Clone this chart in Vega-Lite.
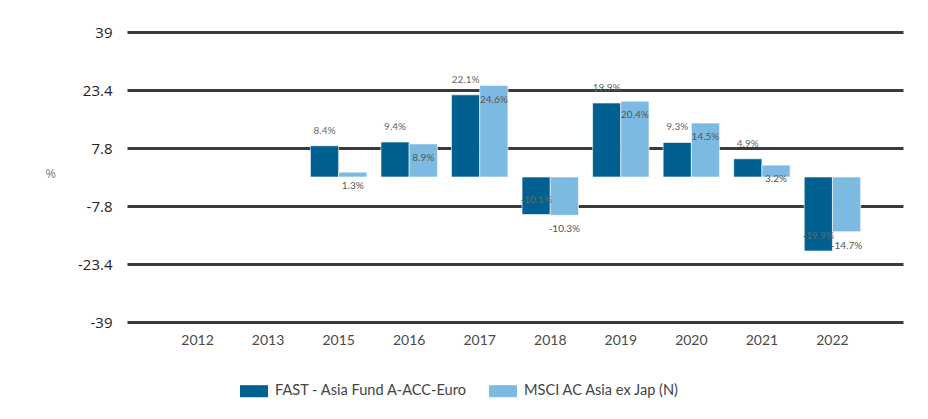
{
  "$schema": "https://vega.github.io/schema/vega-lite/v6.json",
  "width": 776,
  "height": 290,
  "autosize": {"type": "none"},
  "padding": {"left": 127, "top": 32, "right": 25, "bottom": 97},
  "background": "#ffffff",
  "config": {"view": {"stroke": null}, "font": "Lato"},
  "data": {
    "values": [
      {"year": "2015", "series": "FAST - Asia Fund A-ACC-Euro", "value": 8.4},
      {"year": "2015", "series": "MSCI AC Asia ex Jap (N)", "value": 1.3},
      {"year": "2016", "series": "FAST - Asia Fund A-ACC-Euro", "value": 9.4},
      {"year": "2016", "series": "MSCI AC Asia ex Jap (N)", "value": 8.9},
      {"year": "2017", "series": "FAST - Asia Fund A-ACC-Euro", "value": 22.1},
      {"year": "2017", "series": "MSCI AC Asia ex Jap (N)", "value": 24.6},
      {"year": "2018", "series": "FAST - Asia Fund A-ACC-Euro", "value": -10.1},
      {"year": "2018", "series": "MSCI AC Asia ex Jap (N)", "value": -10.3},
      {"year": "2019", "series": "FAST - Asia Fund A-ACC-Euro", "value": 19.9},
      {"year": "2019", "series": "MSCI AC Asia ex Jap (N)", "value": 20.4},
      {"year": "2020", "series": "FAST - Asia Fund A-ACC-Euro", "value": 9.3},
      {"year": "2020", "series": "MSCI AC Asia ex Jap (N)", "value": 14.5},
      {"year": "2021", "series": "FAST - Asia Fund A-ACC-Euro", "value": 4.9},
      {"year": "2021", "series": "MSCI AC Asia ex Jap (N)", "value": 3.2},
      {"year": "2022", "series": "FAST - Asia Fund A-ACC-Euro", "value": -19.9},
      {"year": "2022", "series": "MSCI AC Asia ex Jap (N)", "value": -14.7}
    ]
  },
  "transform": [{"calculate": "datum.value + '%'", "as": "label"}],
  "encoding": {
    "x": {
      "field": "year",
      "type": "nominal",
      "scale": {
        "domain": ["2012", "2013", "2015", "2016", "2017", "2018", "2019", "2020", "2021", "2022"],
        "paddingInner": 0.2,
        "paddingOuter": 0.6
      },
      "axis": {
        "title": null,
        "domain": false,
        "ticks": false,
        "labelAngle": 0,
        "labelPadding": 11,
        "labelFontSize": 14,
        "labelColor": "#4a4a4a",
        "labelFont": "Lato",
        "grid": false
      }
    },
    "xOffset": {"field": "series", "type": "nominal"},
    "y": {
      "field": "value",
      "type": "quantitative",
      "scale": {"domain": [-39, 39], "nice": false, "zero": false},
      "axis": {
        "title": "%",
        "titleAngle": 0,
        "titleX": -77,
        "titleY": 148,
        "titleFontSize": 13,
        "titleFontWeight": "normal",
        "titleColor": "#7a7a7a",
        "titleFont": "Open Sans",
        "values": [-39, -23.4, -7.8, 7.8, 23.4, 39],
        "labelExpr": "'' + datum.value",
        "domain": false,
        "ticks": false,
        "labelPadding": 15,
        "labelFontSize": 15,
        "labelColor": "#222222",
        "labelFont": "Open Sans",
        "grid": true,
        "gridColor": "#3a3a3a",
        "gridWidth": 3,
        "gridOpacity": 1
      }
    }
  },
  "layer": [
    {
      "mark": {"type": "bar", "stroke": "#ffffff", "strokeWidth": 0.6},
      "encoding": {
        "y2": {"datum": 0},
        "color": {
          "field": "series",
          "type": "nominal",
          "scale": {
            "domain": ["FAST - Asia Fund A-ACC-Euro", "MSCI AC Asia ex Jap (N)"],
            "range": ["#006091", "#7dbae1"]
          },
          "legend": {
            "title": null,
            "orient": "none",
            "direction": "horizontal",
            "legendX": 113,
            "legendY": 345,
            "symbolType": "M-1,-0.43H1V0.43H-1Z",
            "symbolSize": 784,
            "symbolStrokeWidth": 0,
            "symbolOpacity": 1,
            "labelFontSize": 14.6,
            "labelFont": "Lato",
            "labelColor": "#444444",
            "labelOffset": 7,
            "columnPadding": 21,
            "labelLimit": 300
          }
        }
      }
    },
    {
      "transform": [{"filter": "datum.series == 'FAST - Asia Fund A-ACC-Euro'"}],
      "mark": {"type": "text", "dy": -15, "baseline": "middle", "fontSize": 10, "color": "#666666", "font": "Lato"},
      "encoding": {"text": {"field": "label", "type": "nominal"}}
    },
    {
      "transform": [{"filter": "datum.series == 'MSCI AC Asia ex Jap (N)'"}],
      "mark": {"type": "text", "dy": 14, "baseline": "middle", "fontSize": 10, "color": "#555555", "font": "Lato"},
      "encoding": {"text": {"field": "label", "type": "nominal"}}
    }
  ]
}
